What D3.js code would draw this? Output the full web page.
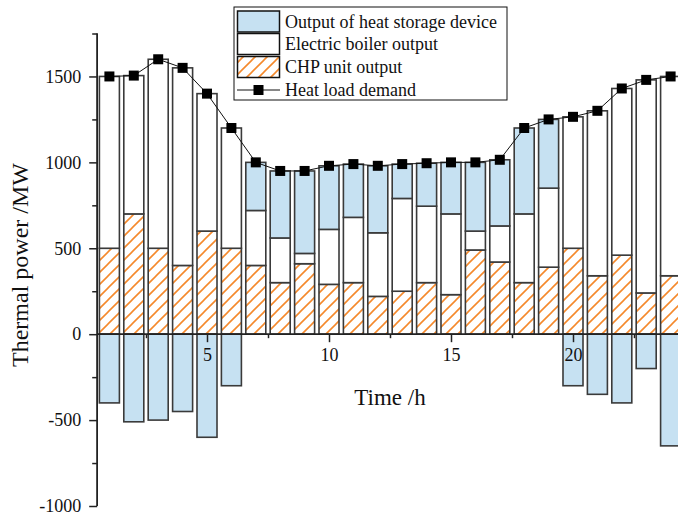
<!DOCTYPE html>
<html>
<head>
<meta charset="utf-8">
<script src="https://cdn.jsdelivr.net/npm/d3@7"></script>
<style>
  html, body { margin: 0; padding: 0; background: #fff; }
  svg { display: block; font-family: "Liberation Serif", "Times New Roman", serif; }
</style>
</head>
<body>
<div id="chart"></div>
<script>
  // Valores (MW)
  const hours = [1,2,3,4,5,6,7,8,9,10,11,12,13,14,15,16,17,18,19,20,21,22,23,24];
  const demand = [1500,1505,1600,1550,1400,1200,1000,950,950,980,990,980,990,995,1000,1000,1015,1200,1250,1265,1300,1430,1480,1500];
  const chp = [500,700,500,400,600,500,400,300,410,290,300,220,250,300,230,490,420,300,390,500,340,460,240,340];
  const boiler = [1000,805,1100,1150,800,700,320,260,60,320,380,370,540,445,470,110,210,400,460,765,960,970,1240,1160];
  const storage = [-400,-510,-500,-450,-600,-300,280,390,480,370,310,390,200,250,300,400,385,500,400,-300,-350,-400,-200,-650];

  const legendLabels = ['Output of heat storage device', 'Electric boiler output', 'CHP unit output', 'Heat load demand'];
  const xTicks = [5, 10, 15, 20];
  const xMinor = [2.5, 7.5, 12.5, 17.5, 22.5];
  const yTicks = [-1000, -500, 0, 500, 1000, 1500];
  const yMinor = [-750, -250, 250, 750, 1250, 1750];

  const width = 678, height = 520;
  const BLUE = '#c6e1f2', ORANGE = '#f5892c', EDGE = '#3a3a3a';

  const svg = d3.select('#chart').append('svg')
    .attr('width', width).attr('height', height);

  const defs = svg.append('defs');
  const pat = defs.append('pattern')
    .attr('id', 'hatch').attr('patternUnits', 'userSpaceOnUse')
    .attr('width', 12).attr('height', 12);
  pat.append('rect').attr('width', 12).attr('height', 12).attr('fill', '#fff');
  pat.append('path')
    .attr('d', 'M0,12 L12,0 M-3,3 L3,-3 M9,15 L15,9')
    .attr('stroke', ORANGE).attr('stroke-width', 1.6);

  const x = d3.scaleLinear().domain([0, 24]).range([85, 670.6]);
  const y = d3.scaleLinear().domain([-1000, 1750]).range([506, 33.5]);
  const barW = (x(1) - x(0)) * 0.82;

  // tabla para d3.stack
  const rows = hours.map((h, i) => ({ h, chp: chp[i], boiler: boiler[i], storage: storage[i] }));
  const series = d3.stack().keys(['chp', 'boiler', 'storage']).offset(d3.stackOffsetDiverging)(rows);
  const fills = { chp: 'url(#hatch)', boiler: '#fff', storage: BLUE };

  const bars = svg.append('g');
  series.forEach((s) => {
    bars.append('g').selectAll('rect').data(s).join('rect')
      .attr('x', (d) => x(d.data.h) - barW / 2)
      .attr('width', barW)
      .attr('y', (d) => y(Math.max(d[0], d[1])))
      .attr('height', (d) => Math.abs(y(d[0]) - y(d[1])))
      .attr('fill', fills[s.key])
      .attr('stroke', EDGE).attr('stroke-width', 1.6);
  });

  // ejes
  const plain = (d) => String(d);
  const yAxis = svg.append('g').attr('transform', `translate(${x(0.5)},0)`);
  yAxis.call(d3.axisLeft(y).tickValues(yTicks).tickSize(8).tickPadding(8).tickFormat(plain));
  yAxis.append('g').call(d3.axisLeft(y).tickValues(yMinor).tickSize(5).tickFormat(''));
  yAxis.selectAll('.domain').attr('d', `M0,${y(1750)}V${y(-1000)}`);

  const xAxis = svg.append('g').attr('transform', `translate(0,${y(0)})`);
  xAxis.call(d3.axisBottom(x).tickValues(xTicks).tickSize(8).tickPadding(6).tickFormat(plain));
  xAxis.append('g').call(d3.axisBottom(x).tickValues(xMinor).tickSize(4).tickFormat(''));
  xAxis.selectAll('.domain').attr('d', `M${x(0.5)},0H${width}`);

  svg.selectAll('.domain').attr('stroke', '#222').attr('stroke-width', 1.5);
  svg.selectAll('.tick line').attr('stroke', '#222').attr('stroke-width', 1.5);
  svg.selectAll('.tick text')
    .attr('font-family', '"Liberation Serif", serif')
    .attr('font-size', 18).attr('fill', '#111');

  // curva de demanda
  const pts = hours.map((h, i) => [x(h), y(demand[i])]);
  svg.append('path')
    .attr('d', d3.line()(pts))
    .attr('fill', 'none').attr('stroke', '#111').attr('stroke-width', 1);
  svg.append('g').selectAll('rect').data(pts).join('rect')
    .attr('x', (d) => d[0] - 5).attr('y', (d) => d[1] - 5)
    .attr('width', 10).attr('height', 10).attr('fill', '#000');

  // títulos
  svg.append('text')
    .attr('x', 390).attr('y', 405)
    .attr('text-anchor', 'middle').attr('font-size', 23).attr('fill', '#111')
    .text('Time /h');
  svg.append('text')
    .attr('transform', 'translate(28,265) rotate(-90)')
    .attr('text-anchor', 'middle').attr('font-size', 24).attr('fill', '#111')
    .text('Thermal power /MW');

  // leyenda
  const lg = svg.append('g');
  lg.append('rect').attr('x', 234).attr('y', 7).attr('width', 273).attr('height', 93)
    .attr('fill', '#fff').attr('stroke', '#111').attr('stroke-width', 1);
  const swFills = [BLUE, '#fff', 'url(#hatch)'];
  const rowY = [21.5, 44, 67, 90];
  swFills.forEach((f, i) => {
    lg.append('rect').attr('x', 237.5).attr('y', rowY[i] - 10.5).attr('width', 42).attr('height', 21)
      .attr('fill', f).attr('stroke', '#111').attr('stroke-width', 1.5);
  });
  lg.append('line').attr('x1', 237).attr('x2', 280).attr('y1', rowY[3]).attr('y2', rowY[3])
    .attr('stroke', '#111').attr('stroke-width', 1);
  lg.append('rect').attr('x', 253.5).attr('y', rowY[3] - 5).attr('width', 10).attr('height', 10).attr('fill', '#000');
  legendLabels.forEach((t, i) => {
    lg.append('text').attr('x', 285).attr('y', rowY[i] + 6)
      .attr('font-size', 18).attr('fill', '#111').text(t);
  });
</script>
</body>
</html>
